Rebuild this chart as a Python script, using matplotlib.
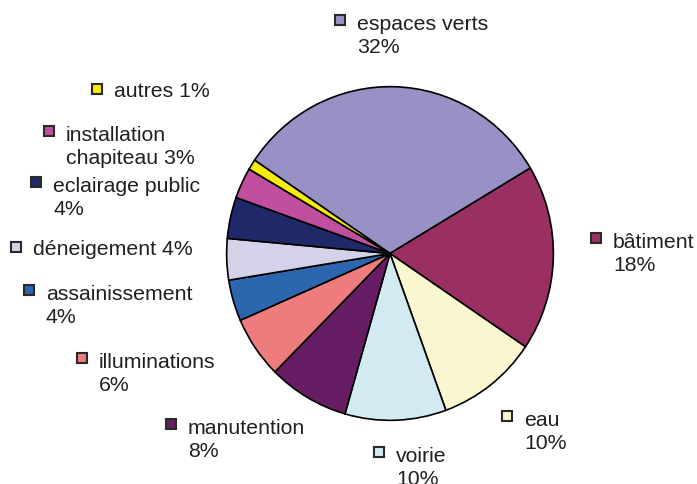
import matplotlib
matplotlib.use("Agg")
import matplotlib.pyplot as plt
from matplotlib.patches import Rectangle

# ---- data ----
categories = ["espaces verts", "bâtiment", "eau", "voirie", "manutention",
              "illuminations", "assainissement", "déneigement",
              "eclairage public", "installation\nchapiteau", "autres"]
values = [32, 18, 10, 10, 8, 6, 4, 4, 4, 3, 1]

# ---- styles / layout ----
colors = ["#9791C6", "#9A2F63", "#FAF7D0", "#D2EAF1", "#661D63", "#EE7C7C",
          "#2C66AE", "#D4D2E8", "#1F2869", "#C04FA0", "#F8EC0A"]
# separator between name and percentage (line break or space)
seps = ["\n", "\n", "\n", "\n", "\n", "\n", "\n", " ", "\n", " ", " "]
# marker centre positions in pixels (x, y from top)
marker_pos = [(340, 20), (596, 238), (507, 416), (379, 452), (171, 424),
              (82, 358), (29, 290), (16, 247), (36, 182), (49, 131), (97, 89)]

W, H = 697, 484
LINE = 25
fig = plt.figure(figsize=(W / 100, H / 100), dpi=100)
plt.rcParams['font.family'] = ['Liberation Sans', 'DejaVu Sans']

# pie axes (slightly elliptical like the reference)
cx, cy, rx, ry = 390, 253.5, 165, 168.5
ax = fig.add_axes([(cx - rx) / W, 1 - (cy + ry) / H, 2 * rx / W, 2 * ry / H])
ax.pie(values, colors=colors, startangle=146, counterclock=False,
       radius=1.0, wedgeprops=dict(edgecolor="black", linewidth=1.2))
ax.set_aspect("auto")
ax.set_xlim(-1.01, 1.01)
ax.set_ylim(-1.01, 1.01)
ax.axis("off")

# overlay for labels in pixel coordinates
ov = fig.add_axes([0, 0, 1, 1])
ov.set_xlim(0, W)
ov.set_ylim(H, 0)
ov.axis("off")

for name, v, sep, col, (mx, my) in zip(categories, values, seps, colors, marker_pos):
    s = 10
    ov.add_patch(Rectangle((mx - s / 2, my - s / 2), s, s, facecolor=col,
                           edgecolor="#2a2a2a", linewidth=1.5, zorder=3))
    label = f"{name}{sep}{v}%"
    nlines = label.count("\n") + 1
    ov.text(mx + 17, my + 8 + (nlines - 1) * LINE, label, fontsize=15.3,
            color="#231F20", ha="left", va="baseline", linespacing=1.27)

fig.savefig("out.png", dpi=100)
